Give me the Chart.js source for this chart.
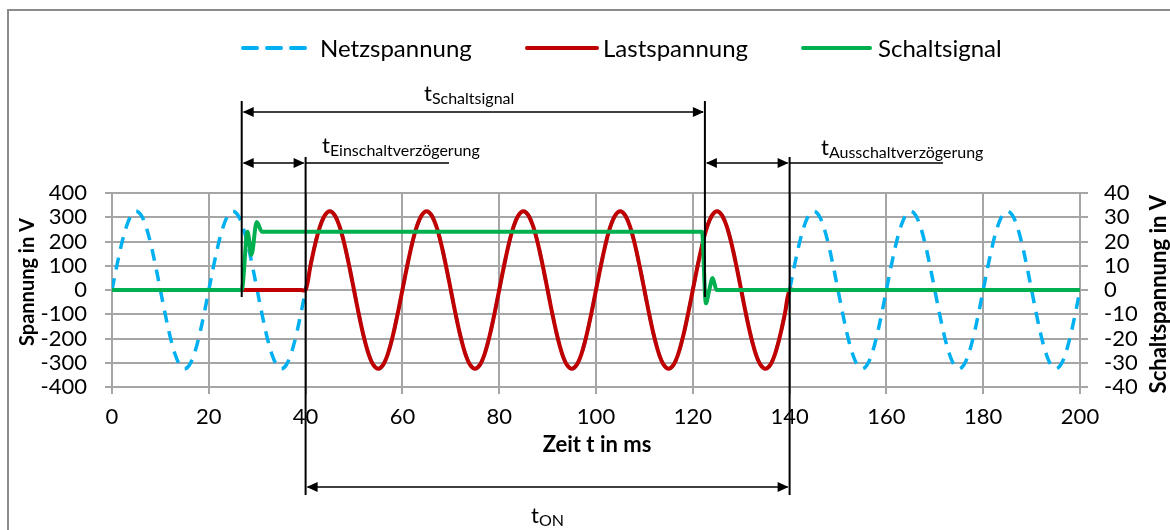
<!DOCTYPE html>
<html>
<head>
<meta charset="utf-8">
<script src="https://cdn.jsdelivr.net/npm/chart.js@4.4.1/dist/chart.umd.min.js"></script>
<style>
  body { margin: 0; background: #fff; }
  #wrap { width: 1170px; height: 530px; }
</style>
</head>
<body>
<div id="wrap"><canvas id="myChart" width="1170" height="530"></canvas></div>
<script>
// time axis in ms (1 ms steps)
const zeit = [
  0,1,2,3,4,5,6,7,8,9,10,11,12,13,14,15,16,17,18,19,
  20,21,22,23,24,25,26,27,28,29,30,31,32,33,34,35,36,37,38,39,
  40,41,42,43,44,45,46,47,48,49,50,51,52,53,54,55,56,57,58,59,
  60,61,62,63,64,65,66,67,68,69,70,71,72,73,74,75,76,77,78,79,
  80,81,82,83,84,85,86,87,88,89,90,91,92,93,94,95,96,97,98,99,
  100,101,102,103,104,105,106,107,108,109,110,111,112,113,114,115,116,117,118,119,
  120,121,122,123,124,125,126,127,128,129,130,131,132,133,134,135,136,137,138,139,
  140,141,142,143,144,145,146,147,148,149,150,151,152,153,154,155,156,157,158,159,
  160,161,162,163,164,165,166,167,168,169,170,171,172,173,174,175,176,177,178,179,
  180,181,182,183,184,185,186,187,188,189,190,191,192,193,194,195,196,197,198,199,
  200
];

// Netzspannung in V
const netzspannung = [
  0,100,191,263,309,325,309,263,191,100,0,-100,-191,-263,-309,-325,-309,-263,-191,-100,
  0,100,191,263,309,325,309,263,191,100,0,-100,-191,-263,-309,-325,-309,-263,-191,-100,
  0,100,191,263,309,325,309,263,191,100,0,-100,-191,-263,-309,-325,-309,-263,-191,-100,
  0,100,191,263,309,325,309,263,191,100,0,-100,-191,-263,-309,-325,-309,-263,-191,-100,
  0,100,191,263,309,325,309,263,191,100,0,-100,-191,-263,-309,-325,-309,-263,-191,-100,
  0,100,191,263,309,325,309,263,191,100,0,-100,-191,-263,-309,-325,-309,-263,-191,-100,
  0,100,191,263,309,325,309,263,191,100,0,-100,-191,-263,-309,-325,-309,-263,-191,-100,
  0,100,191,263,309,325,309,263,191,100,0,-100,-191,-263,-309,-325,-309,-263,-191,-100,
  0,100,191,263,309,325,309,263,191,100,0,-100,-191,-263,-309,-325,-309,-263,-191,-100,
  0,100,191,263,309,325,309,263,191,100,0,-100,-191,-263,-309,-325,-309,-263,-191,-100,
  0
];

// Lastspannung in V
const lastspannung = [
  0,0,0,0,0,0,0,0,0,0,0,0,0,0,0,0,0,0,0,0,
  0,0,0,0,0,0,0,0,0,0,0,0,0,0,0,0,0,0,0,0,
  0,100,191,263,309,325,309,263,191,100,0,-100,-191,-263,-309,-325,-309,-263,-191,-100,
  0,100,191,263,309,325,309,263,191,100,0,-100,-191,-263,-309,-325,-309,-263,-191,-100,
  0,100,191,263,309,325,309,263,191,100,0,-100,-191,-263,-309,-325,-309,-263,-191,-100,
  0,100,191,263,309,325,309,263,191,100,0,-100,-191,-263,-309,-325,-309,-263,-191,-100,
  0,100,191,263,309,325,309,263,191,100,0,-100,-191,-263,-309,-325,-309,-263,-191,-100,
  0,0,0,0,0,0,0,0,0,0,0,0,0,0,0,0,0,0,0,0,
  0,0,0,0,0,0,0,0,0,0,0,0,0,0,0,0,0,0,0,0,
  0,0,0,0,0,0,0,0,0,0,0,0,0,0,0,0,0,0,0,0,
  0
];

// Schaltsignal (right axis) - time and value
const schaltZeit = [0, 26.8, 28.0, 28.8, 29.9, 31.0, 31.6, 121.9, 122.7, 123.4, 124.1, 124.9, 125.5, 200];
const schaltWert = [0, 0, 24, 14.5, 28, 24, 24, 24, -5.5, 0, 5, 0, 0, 0];

// ticks
const xTicks = [0, 20, 40, 60, 80, 100, 120, 140, 160, 180, 200];
const yTicks = [-400, -300, -200, -100, 0, 100, 200, 300, 400];
const y2Ticks = [-40, -30, -20, -10, 0, 10, 20, 30, 40];

// time marks for the annotations (ms)
const tEin = 26.8, tOnStart = 40, tAus = 122.5, tOnEnde = 140;

const gridColor = '#a6a6a6';
const fontName = 'Lato';

// custom drawing: frame, legend, axis titles, dimension arrows
function arrowHead(ctx, x, y, dir) {
  ctx.beginPath();
  ctx.moveTo(x, y);
  ctx.lineTo(x - dir * 11, y - 5);
  ctx.lineTo(x - dir * 11, y + 5);
  ctx.closePath();
  ctx.fill();
}

function dimArrow(ctx, x1, x2, y) {
  ctx.beginPath();
  ctx.moveTo(x1 + 2, y);
  ctx.lineTo(x2 - 2, y);
  ctx.stroke();
  arrowHead(ctx, x1 + 1, y, -1);
  arrowHead(ctx, x2 - 1, y, 1);
}

function subText(ctx, x, y, main, sub) {
  ctx.textAlign = 'left';
  ctx.textBaseline = 'alphabetic';
  ctx.font = '22px ' + fontName;
  ctx.fillText(main, x, y);
  const w = ctx.measureText(main).width;
  ctx.font = '16px ' + fontName;
  ctx.fillText(sub, x + w, y + 3);
}

const extras = {
  id: 'extras',
  beforeDraw(chart) {
    const ctx = chart.ctx;
    ctx.save();
    ctx.fillStyle = '#fff';
    ctx.fillRect(0, 0, chart.width, chart.height);
    // frame
    ctx.strokeStyle = '#8c8c8c';
    ctx.lineWidth = 2;
    ctx.beginPath();
    ctx.moveTo(8, 540);
    ctx.lineTo(8, 10);
    ctx.lineTo(1180, 10);
    ctx.stroke();
    ctx.restore();
  },
  afterDatasetsDraw(chart) {
    const ctx = chart.ctx;
    const xs = chart.scales.x;
    ctx.save();

    // legend
    const legend = [
      { x1: 243, x2: 315, tx: 320, color: '#00b0f0', dash: [14, 10], text: 'Netzspannung' },
      { x1: 527, x2: 597, tx: 603, color: '#c00000', dash: [], text: 'Lastspannung' },
      { x1: 803, x2: 870, tx: 878, color: '#00b050', dash: [], text: 'Schaltsignal' }
    ];
    ctx.lineWidth = 4;
    ctx.lineCap = 'round';
    legend.forEach(l => {
      ctx.strokeStyle = l.color;
      ctx.setLineDash(l.dash);
      ctx.beginPath();
      ctx.moveTo(l.x1, 48);
      ctx.lineTo(l.x2, 48);
      ctx.stroke();
      ctx.setLineDash([]);
      ctx.fillStyle = '#000';
      ctx.font = '24px ' + fontName;
      ctx.textAlign = 'left';
      ctx.textBaseline = 'middle';
      ctx.fillText(l.text, l.tx, 49);
    });
    ctx.lineCap = 'butt';

    // axis titles
    ctx.fillStyle = '#000';
    ctx.font = 'bold 22px ' + fontName;
    ctx.textAlign = 'center';
    ctx.textBaseline = 'middle';
    ctx.fillText('Zeit t in ms', 597, 445);

    ctx.font = 'bold 20px ' + fontName;
    ctx.save();
    ctx.translate(28, 282);
    ctx.rotate(-Math.PI / 2);
    ctx.fillText('Spannung in V', 0, 0);
    ctx.restore();

    // right title: its first letter is cut off at the bottom like in the original
    ctx.font = 'bold 22px ' + fontName;
    ctx.save();
    ctx.beginPath();
    ctx.rect(1130, 180, 40, 222);
    ctx.clip();
    ctx.translate(1159, 305);
    ctx.rotate(-Math.PI / 2);
    ctx.textAlign = 'right';
    ctx.fillText('Schaltspannung in V', 110, 0);
    ctx.restore();

    // vertical marker lines
    const xEin = xs.getPixelForValue(tEin);
    const xOn = xs.getPixelForValue(tOnStart);
    const xAus = xs.getPixelForValue(tAus);
    const xOff = xs.getPixelForValue(tOnEnde);
    ctx.strokeStyle = '#000';
    ctx.fillStyle = '#000';
    ctx.lineWidth = 2;
    [[xEin, 101, 297], [xAus, 101, 297], [xOn, 157, 495], [xOff, 157, 495]].forEach(v => {
      ctx.beginPath();
      ctx.moveTo(v[0], v[1]);
      ctx.lineTo(v[0], v[2]);
      ctx.stroke();
    });

    // dimension arrows
    ctx.lineWidth = 1.5;
    dimArrow(ctx, xEin, xAus, 112);
    dimArrow(ctx, xEin, xOn, 163);
    dimArrow(ctx, xAus, xOff, 163);
    dimArrow(ctx, xOn, xOff, 487);
    ctx.beginPath();
    ctx.moveTo(xOn, 163);
    ctx.lineTo(449, 163);
    ctx.moveTo(xOff, 163);
    ctx.lineTo(943, 163);
    ctx.stroke();

    // labels
    subText(ctx, 424, 101, 't', 'Schaltsignal');
    subText(ctx, 322, 153, 't', 'Einschaltverzögerung');
    subText(ctx, 821, 155, 't', 'Ausschaltverzögerung');
    subText(ctx, 531, 523, 't', 'ON');

    ctx.restore();
  }
};

const data = {
  labels: zeit,
  datasets: [
    {
      label: 'Schaltsignal',
      data: schaltZeit.map((t, i) => ({ x: t, y: schaltWert[i] })),
      yAxisID: 'y2',
      borderColor: '#00b050',
      borderWidth: 4,
      cubicInterpolationMode: 'monotone',
      pointRadius: 0,
      order: 0
    },
    {
      label: 'Lastspannung',
      data: lastspannung,
      yAxisID: 'y',
      borderColor: '#c00000',
      borderWidth: 4,
      tension: 0.35,
      pointRadius: 0,
      order: 1
    },
    {
      label: 'Netzspannung',
      data: netzspannung,
      yAxisID: 'y',
      borderColor: '#00b0f0',
      borderWidth: 3.5,
      borderDash: [12, 9],
      tension: 0.35,
      pointRadius: 0,
      order: 2
    }
  ]
};

const tickFont = { family: fontName, size: 22, lineHeight: 1 };

const config = {
  type: 'line',
  data: data,
  options: {
    responsive: false,
    animation: false,
    layout: { padding: { top: 193, left: 0, right: 0, bottom: 0 } },
    plugins: {
      legend: { display: false },
      tooltip: { enabled: false }
    },
    scales: {
      x: {
        type: 'linear',
        min: 0,
        max: 200,
        afterBuildTicks: s => { s.ticks = xTicks.map(v => ({ value: v })); },
        afterFit: s => { s.height = 143; },
        grid: { color: gridColor, lineWidth: 2, tickLength: 7 },
        border: { color: gridColor, width: 2 },
        ticks: { font: tickFont, color: '#000', padding: 12, maxRotation: 0, autoSkip: false }
      },
      y: {
        position: 'left',
        min: -400,
        max: 400,
        afterBuildTicks: s => { s.ticks = yTicks.map(v => ({ value: v })); },
        afterFit: s => { s.width = 112; },
        grid: { color: gridColor, lineWidth: 2, tickLength: 7 },
        border: { color: gridColor, width: 2 },
        ticks: { font: tickFont, color: '#000', padding: 18, autoSkip: false }
      },
      y2: {
        position: 'right',
        min: -40,
        max: 40,
        afterBuildTicks: s => { s.ticks = y2Ticks.map(v => ({ value: v })); },
        afterFit: s => { s.width = 90; },
        grid: { drawOnChartArea: false, color: gridColor, lineWidth: 2, tickLength: 8 },
        border: { color: gridColor, width: 2 },
        ticks: { font: tickFont, color: '#000', padding: 16, autoSkip: false }
      }
    }
  },
  plugins: [extras]
};

const myChart = new Chart(document.getElementById('myChart'), config);
</script>
</body>
</html>
